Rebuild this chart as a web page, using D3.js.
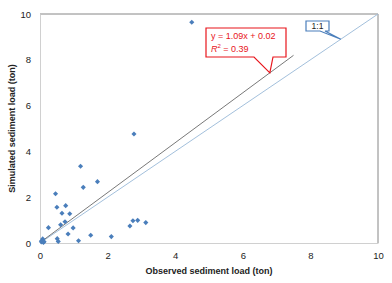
<!DOCTYPE html>
<html>
<head>
<meta charset="utf-8">
<script src="https://cdn.jsdelivr.net/npm/d3@7"></script>
<style>
  body { margin: 0; background: #fff; }
  text { font-family: "Liberation Sans", Arial, sans-serif; }
</style>
</head>
<body>
<svg id="chart"></svg>
<script>
// observed vs simulated sediment load (ton)
const observed = [4.49, 2.78, 1.20, 1.28, 1.70, 0.46, 0.50, 0.76, 0.65, 0.88, 0.74, 0.61, 0.98, 0.25, 0.83, 0.51, 0.54, 1.14, 1.50, 2.11, 2.66, 2.75, 2.89, 3.13, 0.05, 0.08, 0.10, 0.04, 0.12];
const simulated = [9.64, 4.76, 3.35, 2.43, 2.68, 2.15, 1.56, 1.63, 1.30, 1.28, 0.93, 0.80, 0.66, 0.67, 0.39, 0.19, 0.07, 0.10, 0.34, 0.28, 0.74, 0.97, 0.99, 0.89, 0.10, 0.18, 0.02, 0.05, 0.06];
const ticks = [0, 2, 4, 6, 8, 10];
const slope = 1.09, intercept = 0.02, fitEnd = 7.5;
const fitLabel = "y = 1.09x + 0.02";
const r2Value = "0.39";

const width = 392, height = 283;
const margin = {top: 14, right: 14, bottom: 40, left: 40};
const innerW = width - margin.left - margin.right;
const innerH = height - margin.top - margin.bottom;

const svg = d3.select('#chart').attr('width', width).attr('height', height);
const g = svg.append('g').attr('transform', `translate(${margin.left},${margin.top})`);

const x = d3.scaleLinear().domain([0, 10]).range([0, innerW]);
const y = d3.scaleLinear().domain([0, 10]).range([innerH, 0]);

// plot border (top/right darker)
g.append('line').attr('x1', 0).attr('x2', innerW).attr('y1', 0).attr('y2', 0).attr('stroke', '#868686');
g.append('line').attr('x1', innerW).attr('x2', innerW).attr('y1', 0).attr('y2', innerH).attr('stroke', '#868686');

const xAxis = d3.axisBottom(x).tickValues(ticks).tickSize(0).tickPadding(9);
const yAxis = d3.axisLeft(y).tickValues(ticks).tickSize(0).tickPadding(9);

g.append('g').attr('transform', `translate(0,${innerH})`).call(xAxis)
  .call(a => a.select('.domain').attr('stroke', '#d0d0d0'))
  .call(a => a.selectAll('text').attr('font-size', 9.5).attr('fill', '#222'));
g.append('g').call(yAxis)
  .call(a => a.select('.domain').attr('stroke', '#d0d0d0'))
  .call(a => a.selectAll('text').attr('font-size', 9.5).attr('fill', '#222'));

// 1:1 line
g.append('line')
  .attr('x1', x(0)).attr('y1', y(0)).attr('x2', x(10)).attr('y2', y(10))
  .attr('stroke', '#a3c0dc').attr('stroke-width', 1);

// regression line
g.append('line')
  .attr('x1', x(0)).attr('y1', y(intercept))
  .attr('x2', x(fitEnd)).attr('y2', y(slope * fitEnd + intercept))
  .attr('stroke', '#555').attr('stroke-width', 0.8);

// points (square diamonds)
g.selectAll('.pt')
  .data(observed.map((d, i) => [d, simulated[i]]))
  .enter().append('path')
  .attr('class', 'pt')
  .attr('transform', d => `translate(${x(d[0])},${y(d[1])}) rotate(45)`)
  .attr('d', d3.symbol().type(d3.symbolSquare).size(13))
  .attr('fill', '#4a7ebb');

// regression callout
const tipX = 6.8;
const tip = [x(tipX), y(slope * tipX + intercept)];
const bx0 = 166, by0 = 14, bx1 = 246, by1 = 43;
g.append('path')
  .attr('d', `M${bx0},${by0}H${bx1}V${by1}H${bx1 - 13}L${tip[0]},${tip[1]}L${bx1 - 32},${by1}H${bx0}Z`)
  .attr('fill', '#fff').attr('stroke', '#e8141b').attr('stroke-width', 1.2);
g.append('text').attr('x', bx0 + 5).attr('y', by0 + 11)
  .attr('font-size', 9).attr('fill', '#e8141b').text(fitLabel);
const r2 = g.append('text').attr('x', bx0 + 5).attr('y', by0 + 24)
  .attr('font-size', 9).attr('fill', '#e8141b');
r2.append('tspan').attr('font-style', 'italic').text('R');
r2.append('tspan').attr('font-size', 6).attr('dy', -4).text('2');
r2.append('tspan').attr('dy', 4).text(' = ' + r2Value);

// 1:1 callout
const t2 = [x(8.9), y(8.9)];
const cx0 = 266, cy0 = 7, cx1 = 289, cy1 = 17;
g.append('path')
  .attr('d', `M${cx0},${cy0}H${cx1}V${cy1}H${cx1 - 4}L${t2[0]},${t2[1]}L${cx1 - 9},${cy1}H${cx0}Z`)
  .attr('fill', '#fff').attr('stroke', '#4a7ebb').attr('stroke-width', 1.2);
g.append('text').attr('x', (cx0 + cx1) / 2).attr('y', cy0 + 8)
  .attr('text-anchor', 'middle').attr('font-size', 8.5).attr('fill', '#222').text('1:1');

// axis titles
svg.append('text')
  .attr('x', margin.left + innerW / 2).attr('y', 274)
  .attr('text-anchor', 'middle').attr('font-size', 9).attr('font-weight', 'bold').attr('fill', '#222')
  .text('Observed sediment load (ton)');
svg.append('text')
  .attr('transform', `translate(15,${margin.top + innerH / 2}) rotate(-90)`)
  .attr('text-anchor', 'middle').attr('font-size', 9).attr('font-weight', 'bold').attr('fill', '#222')
  .text('Simulated sediment load (ton)');
</script>
</body>
</html>
